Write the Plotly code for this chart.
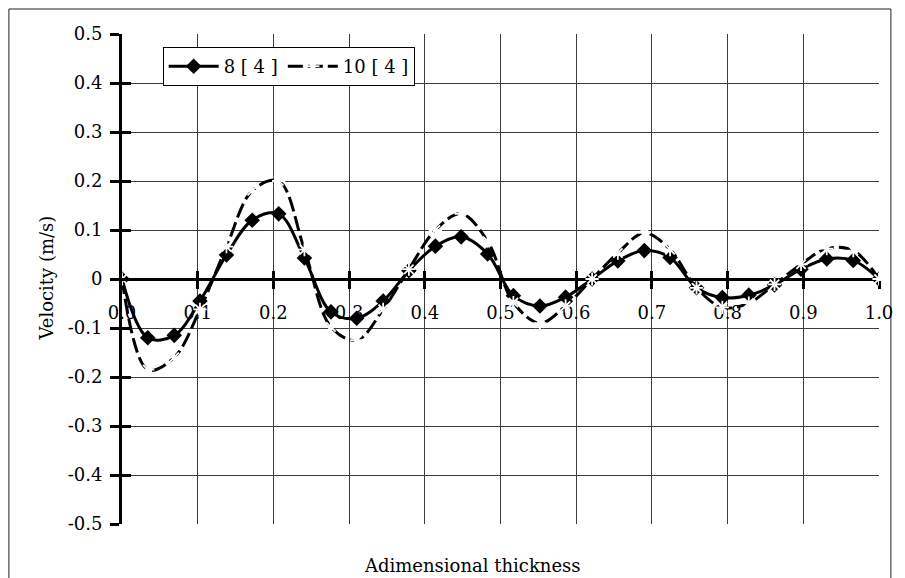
import plotly.graph_objects as go

# ---- data ----
x_vals = [0.000, 0.034, 0.069, 0.103, 0.138, 0.172, 0.207, 0.241, 0.276, 0.310,
          0.345, 0.379, 0.414, 0.448, 0.483, 0.517, 0.552, 0.586, 0.621, 0.655,
          0.690, 0.724, 0.759, 0.793, 0.828, 0.862, 0.897, 0.931, 0.966, 1.000]
series_a_name = "8 [ 4 ]"
series_a = [0.0, -0.120, -0.115, -0.045, 0.049, 0.120, 0.133, 0.043, -0.067, -0.080,
            -0.045, 0.017, 0.067, 0.086, 0.051, -0.034, -0.055, -0.037, 0.000, 0.037,
            0.058, 0.044, -0.018, -0.038, -0.033, -0.012, 0.020, 0.041, 0.038, 0.0]
series_b_name = "10 [ 4 ]"
series_b = [0.0, -0.185, -0.160, -0.062, 0.066, 0.180, 0.200, 0.060, -0.098, -0.125,
            -0.062, 0.020, 0.100, 0.133, 0.077, -0.048, -0.090, -0.055, 0.000, 0.053,
            0.094, 0.060, -0.018, -0.058, -0.049, -0.011, 0.030, 0.062, 0.058, 0.0]

x_ticks = [0.0, 0.1, 0.2, 0.3, 0.4, 0.5, 0.6, 0.7, 0.8, 0.9, 1.0]
x_tick_labels = ["0.0", "0.1", "0.2", "0.3", "0.4", "0.5", "0.6", "0.7", "0.8", "0.9", "1.0"]
x_grid = [0.1, 0.2, 0.3, 0.4, 0.5, 0.6, 0.7, 0.8, 0.9]
y_ticks = [0.5, 0.4, 0.3, 0.2, 0.1, 0.0, -0.1, -0.2, -0.3, -0.4, -0.5]
y_tick_labels = ["0.5", "0.4", "0.3", "0.2", "0.1", "0", "-0.1", "-0.2", "-0.3", "-0.4", "-0.5"]
y_grid = [0.4, 0.3, 0.2, 0.1, -0.1, -0.2, -0.3, -0.4]
y_edge = [0.5, -0.5]

x_title = "Adimensional thickness"
y_title = "Velocity (m/s)"

FONT = "DejaVu Serif"
W, H = 905, 578
L, R, T, B = 122, 20, 34, 54
PW, PH = W - L - R, H - T - B


def px_x(p):
    return (p - L) / PW


def px_y(p):
    return (H - B - p) / PH


fig = go.Figure()
fig.add_trace(go.Scatter(
    x=x_vals, y=series_a, name=series_a_name, mode="lines+markers",
    line=dict(color="black", width=3, shape="spline", smoothing=1.0),
    marker=dict(symbol="diamond", size=12, color="black"),
))
fig.add_trace(go.Scatter(
    x=x_vals, y=series_b, name=series_b_name, mode="lines+markers",
    line=dict(color="black", width=3, shape="spline", smoothing=1.0, dash="15px,5px"),
    marker=dict(symbol="asterisk-open", size=11, color="white",
                line=dict(color="white", width=1.8)),
))

axis_font = dict(family=FONT, size=18, color="black")
fig.update_layout(
    width=W, height=H,
    margin=dict(l=L, r=R, t=T, b=B),
    paper_bgcolor="white", plot_bgcolor="white",
    font=axis_font,
    showlegend=True,
    hovermode=False,
    legend=dict(x=px_x(163), y=px_y(47), xanchor="left", yanchor="top",
                orientation="h", bgcolor="white", bordercolor="black", borderwidth=1,
                font=dict(family=FONT, size=18, color="black"),
                itemwidth=50, tracegroupgap=0),
    xaxis=dict(range=[0, 1], anchor="free", position=0.5,
               tickvals=x_ticks, ticktext=x_tick_labels,
               showline=True, linewidth=3, linecolor="black",
               ticks="outside", ticklen=8, tickwidth=3, tickcolor="black",
               showgrid=False, zeroline=False, layer="below traces",
               ticklabelstandoff=8, tickfont=axis_font),
    xaxis2=dict(range=[0, 1], overlaying="x", anchor="free", position=0.5,
                tickvals=x_ticks, showticklabels=False,
                ticks="inside", ticklen=8, tickwidth=3, tickcolor="black",
                showgrid=False, zeroline=False, showline=False, layer="below traces"),
    xaxis3=dict(range=[0, 1], overlaying="x", anchor="y",
                tickvals=x_grid, showticklabels=False, ticks="",
                showgrid=True, gridcolor="#3c3c3c", gridwidth=1,
                zeroline=False, showline=False),
    yaxis=dict(range=[-0.5, 0.5], anchor="x",
               tickvals=y_ticks, ticktext=y_tick_labels,
               showline=True, linewidth=3, linecolor="black",
               ticks="outside", ticklen=9, tickwidth=3, tickcolor="black",
               showgrid=False, zeroline=False, layer="below traces",
               ticklabelstandoff=4, tickfont=axis_font),
    yaxis2=dict(range=[-0.5, 0.5], overlaying="y", anchor="x",
                tickvals=y_ticks, showticklabels=False,
                ticks="inside", ticklen=9, tickwidth=3, tickcolor="black",
                showgrid=False, zeroline=False, showline=False),
    yaxis3=dict(range=[-0.5, 0.5], overlaying="y", anchor="x",
                tickvals=y_grid, showticklabels=False, ticks="",
                showgrid=True, gridcolor="#3c3c3c", gridwidth=1,
                zeroline=False, showline=False),
    yaxis4=dict(range=[-0.5, 0.5], overlaying="y", anchor="x",
                tickvals=y_edge, showticklabels=False, ticks="",
                showgrid=True, gridcolor="#d4d4d4", gridwidth=1.5,
                zeroline=False, showline=False),
)

# invisible traces so the overlay axes are rendered
for xa, ya in [("x2", "y2"), ("x3", "y3"), ("x3", "y4")]:
    fig.add_trace(go.Scatter(x=[None], y=[None], xaxis=xa, yaxis=ya,
                             showlegend=False, hoverinfo="skip"))

# outer chart border
fig.add_shape(type="rect", xref="paper", yref="paper",
              x0=px_x(8), x1=px_x(897), y0=px_y(600), y1=px_y(9),
              line=dict(color="#222222", width=1), layer="below")

fig.add_annotation(text=x_title, xref="paper", yref="paper",
                   x=px_x(475), y=px_y(565), showarrow=False,
                   xanchor="center", yanchor="middle",
                   font=dict(family=FONT, size=18, color="black"))
fig.add_annotation(text=y_title, xref="paper", yref="paper",
                   x=px_x(45), y=px_y(278), showarrow=False, textangle=-90,
                   xanchor="center", yanchor="middle",
                   font=dict(family=FONT, size=18, color="black"))

fig.write_html("out.html", config={"displayModeBar": False},
               post_script="document.body.style.margin='0px';")
